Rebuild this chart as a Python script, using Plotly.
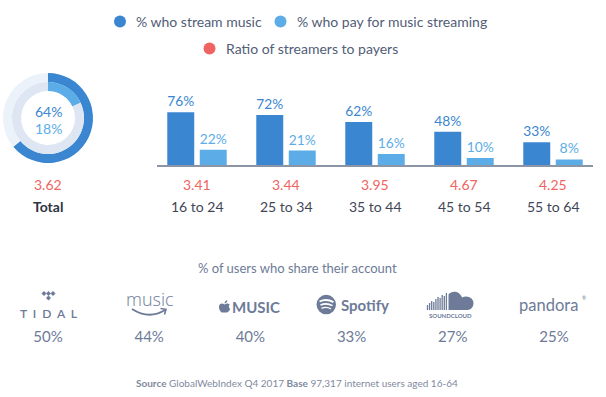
import plotly.graph_objects as go

# ---------------- data ----------------
age_groups = ["16 to 24", "25 to 34", "35 to 44", "45 to 54", "55 to 64"]
stream_pct = [76, 72, 62, 48, 33]
pay_pct = [22, 21, 16, 10, 8]
ratios = ["3.41", "3.44", "3.95", "4.67", "4.25"]

total_label = "Total"
total_stream = 64
total_pay = 18
total_ratio = "3.62"

services = ["TIDAL", "Amazon Music", "Apple Music", "Spotify", "SoundCloud", "Pandora"]
share_pct = [50, 44, 40, 33, 27, 25]

legend_labels = ["% who stream music", "% who pay for music streaming", "Ratio of streamers to payers"]
chart_subtitle = "% of users who share their account"
source_text = "<b>Source</b> GlobalWebIndex Q4 2017 <b>Base</b> 97,317 internet users aged 16-64"

# ---------------- style ----------------
W, H = 606, 397
FONT = "Lato, 'Open Sans', sans-serif"
DARK = "#3a86d0"
LIGHT = "#5cade7"
RED = "#ef6461"
TRACK_OUT = "#ecf2fa"
TRACK_IN = "#dde6f2"
LEG_TXT = "#525d76"
SLATE = "#6d7b98"
CAT_TXT = "#3f4657"


def px(x):
    return x / W


def py(y):
    return 1 - y / H


def path(points_cmds):
    """Build a paper-coordinate SVG path; each command is written explicitly."""
    per = {"M": 1, "L": 1, "Q": 2, "C": 3}
    out = []
    for cmd, coords in points_cmds:
        if cmd == "Z":
            out.append("Z")
            continue
        pts = [f"{px(coords[i]):.5f},{py(coords[i + 1]):.5f}" for i in range(0, len(coords), 2)]
        n = per[cmd]
        for k in range(0, len(pts), n):
            out.append(cmd + " " + " ".join(pts[k:k + n]))
    return " ".join(out)


annotations = []
shapes = []


def note(x, y, text, color, size, xanchor="center", xref="paper", family=FONT, weight=None):
    f = dict(color=color, size=size, family=family)
    if weight is not None:
        f["weight"] = weight
    annotations.append(dict(x=x if xref != "paper" else px(x), y=py(y), xref=xref, yref="paper",
                            text=text, showarrow=False, xanchor=xanchor, yanchor="middle",
                            font=f))


fig = go.Figure()

# ---- bars ----
fig.add_trace(go.Bar(
    x=age_groups, y=stream_pct, name=legend_labels[0],
    marker=dict(color=DARK, line=dict(width=0)),
    text=[f"{v}%" for v in stream_pct], textposition="outside",
    textfont=dict(color=DARK, size=14, family=FONT), cliponaxis=False,
))
fig.add_trace(go.Bar(
    x=age_groups, y=pay_pct, name=legend_labels[1],
    marker=dict(color=LIGHT, line=dict(width=0)),
    text=[f"{v}%" for v in pay_pct], textposition="outside",
    textfont=dict(color=LIGHT, size=14, family=FONT), cliponaxis=False,
))

# ---- donut (total) ----
cx, cy = 48, 118
r_out, r_mid, r_in = 45, 36, 27
fig.add_trace(go.Pie(
    values=[total_stream, 100 - total_stream], sort=False, direction="clockwise",
    rotation=0, hole=r_mid / r_out, textinfo="none", hoverinfo="skip",
    marker=dict(colors=[DARK, TRACK_OUT], line=dict(width=0)),
    domain=dict(x=[px(cx - r_out), px(cx + r_out)], y=[py(cy + r_out), py(cy - r_out)]),
    showlegend=False,
))
fig.add_trace(go.Pie(
    values=[total_pay, 100 - total_pay], sort=False, direction="clockwise",
    rotation=0, hole=r_in / r_mid, textinfo="none", hoverinfo="skip",
    marker=dict(colors=[LIGHT, TRACK_IN], line=dict(width=0)),
    domain=dict(x=[px(cx - r_mid), px(cx + r_mid)], y=[py(cy + r_mid), py(cy - r_mid)]),
    showlegend=False,
))

# ---- share of account (text marks on hidden axis) ----
fig.add_trace(go.Scatter(
    x=services, y=[0] * len(services), mode="text",
    text=[f"{v}%" for v in share_pct],
    textfont=dict(color=SLATE, size=15, family=FONT),
    xaxis="x2", yaxis="y2", hoverinfo="skip", showlegend=False,
))

# donut center labels
note(cx, 112, f"{total_stream}%", DARK, 14)
note(cx, 128, f"{total_pay}%", LIGHT, 14)
note(cx, 184, total_ratio, RED, 14)
note(cx, 206, f"<b>{total_label}</b>", "#2e3442", 14)

# ratios and category labels
for g, r in zip(age_groups, ratios):
    note(g, 184, r, RED, 14, xref="x")
    note(g, 206, g, CAT_TXT, 14, xref="x")

# legend
leg = [(120, 21.5, DARK, 134, legend_labels[0]),
       (280.5, 21.5, LIGHT, 295, legend_labels[1]),
       (209.5, 48.5, RED, 224, legend_labels[2])]
for dx, dy, col, tx, lab in leg:
    shapes.append(dict(type="circle", xref="paper", yref="paper",
                       x0=px(dx - 6), x1=px(dx + 6), y0=py(dy + 6), y1=py(dy - 6),
                       fillcolor=col, line=dict(width=0)))
    note(tx, dy, lab, LEG_TXT, 14, xanchor="left")

# subtitle & source
note(297, 268, chart_subtitle, SLATE, 13)
note(297, 383, source_text, "#7f8a9e", 10)

# ---------------- logos (decorative) ----------------
# TIDAL
for (dx, dy) in [(44, 293.5), (48.5, 293.5), (53, 293.5), (48.5, 298)]:
    d = 2.2
    shapes.append(dict(type="path", xref="paper", yref="paper",
                       path=path([("M", [dx, dy - d]), ("L", [dx + d, dy, dx, dy + d, dx - d, dy]), ("Z", [])]),
                       fillcolor=SLATE, line=dict(color=SLATE, width=0.5)))
note(48.5, 313, "T  I  D  A  L", SLATE, 12, weight=600)

# Amazon music
note(150, 299, "music", SLATE, 18, family="'Open Sans', sans-serif", weight=300)
shapes.append(dict(type="path", xref="paper", yref="paper",
                   path=path([("M", [132, 309]), ("Q", [149, 320, 165, 310])]),
                   line=dict(color=SLATE, width=1.8)))
shapes.append(dict(type="path", xref="paper", yref="paper",
                   path=path([("M", [160.5, 308.5]), ("L", [166, 309.3, 164.5, 314.5])]),
                   line=dict(color=SLATE, width=1.6)))

# Apple MUSIC
shapes.append(dict(type="path", xref="paper", yref="paper",
                   path=path([("M", [224.5, 304.5]),
                              ("C", [222.5, 302.8, 219, 303.3, 219, 307]),
                              ("C", [219, 310, 221, 312.8, 222.8, 312.6]),
                              ("C", [223.8, 312.4, 225.2, 312.4, 226.2, 312.6]),
                              ("C", [228, 312.8, 229.5, 310.5, 230.2, 309]),
                              ("C", [228.6, 308.2, 228.4, 305.4, 229.8, 304.8]),
                              ("C", [228.5, 303.2, 226.5, 303.3, 224.5, 304.5]), ("Z", [])]),
                   fillcolor=SLATE, line=dict(width=0)))
shapes.append(dict(type="path", xref="paper", yref="paper",
                   path=path([("M", [224.6, 303.4]), ("C", [224.6, 301.5, 225.8, 300.5, 227.3, 300.3]),
                              ("C", [227.3, 302, 226.2, 303.2, 224.6, 303.4]), ("Z", [])]),
                   fillcolor=SLATE, line=dict(width=0)))
note(256, 307, "<b>MUSIC</b>", SLATE, 15)

# Spotify
shapes.append(dict(type="circle", xref="paper", yref="paper",
                   x0=px(316.5), x1=px(336), y0=py(314.3), y1=py(294.8),
                   fillcolor=SLATE, line=dict(width=0)))
for (x0, x1, yb, bow, wdt) in [(319.5, 333.5, 301.5, 3.2, 1.9), (320.5, 332.5, 305, 2.6, 1.6), (321.5, 331, 308.3, 2.0, 1.3)]:
    shapes.append(dict(type="path", xref="paper", yref="paper",
                       path=path([("M", [x0, yb]), ("Q", [(x0 + x1) / 2, yb - bow, x1, yb + 0.6])]),
                       line=dict(color="white", width=wdt)))
note(339, 305, "<b>Spotify</b>", SLATE, 15, xanchor="left")

# SoundCloud
bar_tops = [305, 303, 301, 302, 299, 297, 298, 295, 296, 293]
for i, t in enumerate(bar_tops):
    xx = 427.5 + i * 2.1
    shapes.append(dict(type="line", xref="paper", yref="paper",
                       x0=px(xx), x1=px(xx), y0=py(310), y1=py(t),
                       line=dict(color=SLATE, width=1.3)))
shapes.append(dict(type="path", xref="paper", yref="paper",
                   path=path([("M", [448.5, 310]), ("L", [448.5, 294.5]),
                              ("C", [451.5, 290.5, 459.5, 290.5, 462, 297.5]),
                              ("C", [467.5, 294.5, 474, 298.5, 473.5, 303.5]),
                              ("C", [473.2, 308, 470, 310, 467, 310]), ("Z", [])]),
                   fillcolor=SLATE, line=dict(width=0)))
note(450.5, 315.5, "<b>SOUNDCLOUD</b>", SLATE, 6)

# Pandora
note(548, 304.5, "pandora", SLATE, 16.5)
note(583.5, 298, "®", SLATE, 5)

# ---------------- layout ----------------
unit_px = 89.0
x_left, x_right = 157, 593
half = (x_right - x_left) / unit_px / 2
bar_base, px_per_pct = 165, 0.693

svc_unit = 101.2
svc_first = 48
fig.update_layout(
    width=W, height=H, autosize=False,
    margin=dict(l=0, r=0, t=0, b=0),
    paper_bgcolor="white", plot_bgcolor="rgba(0,0,0,0)",
    showlegend=False, hovermode=False,
    barmode="group", bargap=0.27, bargroupgap=0.17,
    font=dict(family=FONT),
    xaxis=dict(type="category", range=[2 - half, 2 + half], domain=[px(x_left), px(x_right)],
               showline=True, linecolor="#8c95a6", linewidth=1.5, showgrid=False,
               zeroline=False, showticklabels=False, ticks="", fixedrange=True),
    yaxis=dict(range=[0, 100], domain=[py(bar_base), py(bar_base - 100 * px_per_pct)],
               visible=False, fixedrange=True),
    xaxis2=dict(type="category", anchor="y2", domain=[0, 1],
                range=[-svc_first / svc_unit, (W - svc_first) / svc_unit],
                visible=False, fixedrange=True),
    yaxis2=dict(anchor="x2", domain=[py(348), py(328)], range=[-1, 1],
                visible=False, fixedrange=True),
    annotations=annotations,
    shapes=shapes,
)

fig.write_html("out.html", config=dict(displayModeBar=False),
               post_script="document.body.style.margin='0px';")
